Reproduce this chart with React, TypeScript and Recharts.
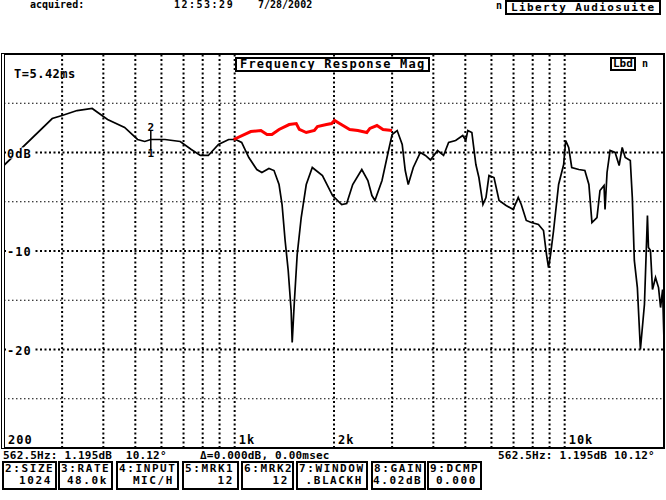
import { LineChart, Line, XAxis, YAxis, ReferenceLine, ReferenceDot } from 'recharts';

// measured response (black), frequency in Hz, level in dB
const blackFreq = [
  200, 280, 300, 333, 370, 412, 464, 508, 534, 557, 615, 684, 739, 787, 832, 893, 959, 1007, 1050, 1104,
  1167, 1209, 1270, 1316, 1363, 1392, 1422, 1453, 1483, 1494, 1515, 1547, 1591, 1648, 1719, 1845, 1980, 2110,
  2185, 2279, 2428, 2533, 2606, 2661, 2796, 2917, 3000, 3108, 3219, 3288, 3357, 3478, 3653, 3784, 3921, 4119,
  4296, 4450, 4673, 4911, 5016, 5087, 5233, 5382, 5497, 5654, 5775, 5898, 6108, 6327, 6646, 6982, 7233, 7388,
  7651, 7927, 8328, 8627, 8810, 8935, 9062, 9256, 9587, 9930, 10070, 10285, 10505, 11035, 11513, 11842, 12096,
  12529, 12795, 13161, 13254, 13441, 13728, 14220, 14627, 14940, 15260, 15808, 16033, 16260, 16608, 16963,
  17448, 17818, 17944, 18198, 18457, 18851, 19253, 19526, 19803, 20000,
];
const blackDb = [
  -1.3, 3.45, 3.76, 4.26, 4.47, 3.35, 2.54, 1.32, 1.12, 1.32, 1.32, 1.12, 0.3, -0.3, -0.3, 0.81, 1.32, 1.32, 1.02, -0.51,
  -1.73, -2.03, -1.62, -1.83, -3.25, -5.28, -8.93, -11.98, -16.04, -19.29, -15.43, -10.36, -6.6, -3.25, -1.52, -2.34, -4.37, -5.28,
  -5.18, -3.25, -1.73, -2.84, -4.37, -4.87, -2.84, 0, 1.83, 2.23, 0.81, -1.83, -3.25, -1.52, 0, -0.3, -0.76, 0.2,
  -0.3, 1.02, 1.22, 1.73, 1.22, 2.23, 2.03, -1.22, -2.54, -5.28, -4.57, -2.34, -2.54, -4.87, -5.38, -5.79, -4.57, -5.28,
  -6.9, -7.11, -7.31, -7.92, -10.36, -11.68, -10.36, -7.92, -3.25, -1.22, 1.22, 0.51, -1.52, -1.73, -1.83, -3.25, -7.11,
  -6.6, -3.86, -3.35, -5.79, -2.03, 0.2, 0, -1.32, 0.51, -0.51, -0.81, -4.57, -10.96, -13.71, -20.0,
  -15.43, -6.4, -9.64, -9.95, -13.91, -12.69, -13.71, -15.74, -13.91, -19.09,
];

// highlighted trace (red)
const redFreq = [
  993, 1119, 1201, 1253, 1297, 1363, 1463, 1537, 1570, 1648, 1744, 1782, 1898, 1966, 2008, 2080, 2232, 2362,
  2515, 2569, 2699, 2816, 3000,
];
const redDb = [
  1.32, 2.13, 2.23, 1.83, 1.83, 2.34, 2.84, 2.94, 2.34, 2.03, 2.23, 2.64, 2.84, 2.94, 3.25, 2.94, 2.34, 2.23,
  2.03, 2.44, 2.74, 2.34, 2.23,
];

const xTicks = [200, 1000, 2000, 10000];
const xTickLabels = ['200', '1k', '2k', '10k'];
const yTicks = [0, -10, -20];
const yTickLabels = ['0dB', '-10', '-20'];
const vGrid = [300, 400, 500, 600, 700, 800, 900, 1000, 2000, 3000, 4000, 5000, 6000, 7000, 8000, 9000, 10000];
const hGridMajor = [0, -10, -20];
const hGridMinor = [5, -5, -15, -25];

const markerFreq = 557;

const buttonLabels = ['2:SIZE', '3:RATE', '4:INPUT', '5:MRK1', '6:MRK2', '7:WINDOW', '8:GAIN', '9:DCMP'];
const buttonValues = ['1024', '48.0k', 'MIC/H', '12', '12', '.BLACKH', '4.02dB', '0.000'];

const blackData = blackFreq.map((f, i) => ({ f, db: blackDb[i] }));
const redData = redFreq.map((f, i) => ({ f, db: redDb[i] }));

const MONO = "'DejaVu Sans Mono', 'Liberation Mono', monospace";

const XTick = (props: any) => {
  const { x, payload } = props;
  const label = xTickLabels[xTicks.indexOf(payload.value)] ?? '';
  return (
    <g>
      <rect x={x + 3} y={434} width={label.length * 9 + 2} height={12} fill="#fff" />
      <text x={x + 4} y={444} fontFamily={MONO} fontWeight="bold" fontSize={12} letterSpacing={1} fill="#000">
        {label}
      </text>
    </g>
  );
};

const YTick = (props: any) => {
  const { y, payload } = props;
  const label = yTickLabels[yTicks.indexOf(payload.value)] ?? '';
  return (
    <g>
      <rect x={6} y={y - 5} width={label.length * 9} height={11} fill="#fff" />
      <text x={7} y={y + 5} fontFamily={MONO} fontWeight="bold" fontSize={12} letterSpacing={1} fill="#000">
        {label}
      </text>
    </g>
  );
};

const abs = (left: number, top: number, extra: any = {}) => ({ position: 'absolute' as const, left, top, ...extra });

const buttonLefts = [2, 58, 116, 182, 241, 296, 371, 427];
const buttonWidths = [55, 55, 63, 57, 53, 72, 55, 55];

export default function App() {
  return (
    <div
      style={{
        position: 'absolute',
        left: 0,
        top: 0,
        width: 666,
        height: 500,
        background: '#fff',
        overflow: 'hidden',
        fontFamily: MONO,
        fontWeight: 'bold',
        color: '#000',
        whiteSpace: 'pre',
      }}
    >
      {/* header */}
      <div style={abs(30, 0, { fontSize: 10, lineHeight: '10px' })}>acquired:</div>
      <div style={abs(174, 0, { fontSize: 10, letterSpacing: 1.5, lineHeight: '10px' })}>12:53:29</div>
      <div style={abs(258, 0, { fontSize: 10, lineHeight: '10px' })}>7/28/2002</div>
      <div style={abs(496, 1, { fontSize: 10, lineHeight: '10px' })}>n</div>
      <div style={abs(505, 0, { fontSize: 11, letterSpacing: 1.4, border: '2px solid #000', padding: '0 4px', lineHeight: '11px' })}>
        Liberty Audiosuite
      </div>

      {/* plot frame */}
      <div style={abs(1, 53, { width: 664, height: 396, boxSizing: 'border-box', border: '2px solid #000', borderLeft: '4px double #000' })} />

      <LineChart
        width={666}
        height={500}
        data={blackData}
        margin={{ top: 54, right: 2, left: 3, bottom: 51 }}
        style={{ position: 'absolute', left: 0, top: 0 }}
      >
        <XAxis
          dataKey="f"
          type="number"
          scale="log"
          domain={[200, 20000]}
          allowDataOverflow
          ticks={xTicks}
          tick={XTick}
          height={1}
          axisLine={false}
          tickLine={false}
          interval={0}
        />
        <YAxis
          type="number"
          domain={[-30, 10]}
          allowDataOverflow
          ticks={yTicks}
          tick={YTick}
          width={1}
          axisLine={false}
          tickLine={false}
          interval={0}
        />
        {hGridMinor.map((v) => (
          <ReferenceLine key={'hm' + v} y={v} stroke="#000" strokeWidth={1.2} strokeDasharray="1.5 2.5" />
        ))}
        {vGrid.map((v) => (
          <ReferenceLine key={'v' + v} x={v} stroke="#000" strokeWidth={2} strokeDasharray="2 2.5" />
        ))}
        {hGridMajor.map((v) => (
          <ReferenceLine key={'hM' + v} y={v} stroke="#000" strokeWidth={2} strokeDasharray="2 2.5" />
        ))}
        <Line
          data={blackData}
          dataKey="db"
          type="linear"
          stroke="#000"
          strokeWidth={1.7}
          dot={false}
          isAnimationActive={false}
        />
        <Line
          data={redData}
          dataKey="db"
          type="linear"
          stroke="#ff0000"
          strokeWidth={3}
          dot={false}
          isAnimationActive={false}
        />
        <ReferenceLine
          segment={[
            { x: markerFreq, y: 0.3 },
            { x: markerFreq, y: 2.2 },
          ]}
          stroke="#000"
          strokeWidth={1.5}
        />
        <ReferenceDot
          x={markerFreq}
          y={2.6}
          r={0}
          label={{ value: '2', position: 'center', fontFamily: MONO, fontWeight: 'bold', fontSize: 11, fill: '#000' }}
        />
        <ReferenceDot
          x={markerFreq}
          y={-0.1}
          r={0}
          label={{ value: '1', position: 'center', fontFamily: MONO, fontWeight: 'bold', fontSize: 11, fill: '#000' }}
        />
      </LineChart>

      {/* in-plot annotations */}
      <div style={abs(14, 67, { fontSize: 12, letterSpacing: 0.5 })}>T=5.42ms</div>
      <div
        style={abs(235, 57, {
          fontSize: 12,
          letterSpacing: 1.2,
          border: '2px solid #000',
          padding: '0 3px',
          lineHeight: '11px',
          background: '#fff',
        })}
      >
        Frequency Response Mag
      </div>
      <div style={abs(610, 57, { fontSize: 11, border: '2px solid #000', padding: '0 1px', lineHeight: '10px', background: '#fff' })}>
        Lbd
      </div>
      <div style={abs(642, 58, { fontSize: 10, background: '#fff' })}>n</div>

      {/* status line */}
      <div style={abs(3, 449, { fontSize: 11, letterSpacing: 0.2 })}>562.5Hz: 1.195dB  10.12°</div>
      <div style={abs(200, 449, { fontSize: 11, letterSpacing: 0.2 })}>Δ=0.000dB, 0.00msec</div>
      <div style={abs(498, 449, { fontSize: 11, letterSpacing: 0.2 })}>562.5Hz: 1.195dB 10.12°</div>

      {/* parameter buttons */}
      {buttonLabels.map((lab, i) => (
        <div
          key={lab}
          style={abs(buttonLefts[i], 461, {
            width: buttonWidths[i],
            height: 29,
            boxSizing: 'border-box',
            border: '2px solid #000',
            fontSize: 11,
            lineHeight: '12px',
          })}
        >
          <div style={{ letterSpacing: 1.6, paddingLeft: 1 }}>{lab}</div>
          <div style={{ textAlign: 'right', paddingRight: 3, letterSpacing: 1.6 }}>{buttonValues[i]}</div>
        </div>
      ))}
    </div>
  );
}
